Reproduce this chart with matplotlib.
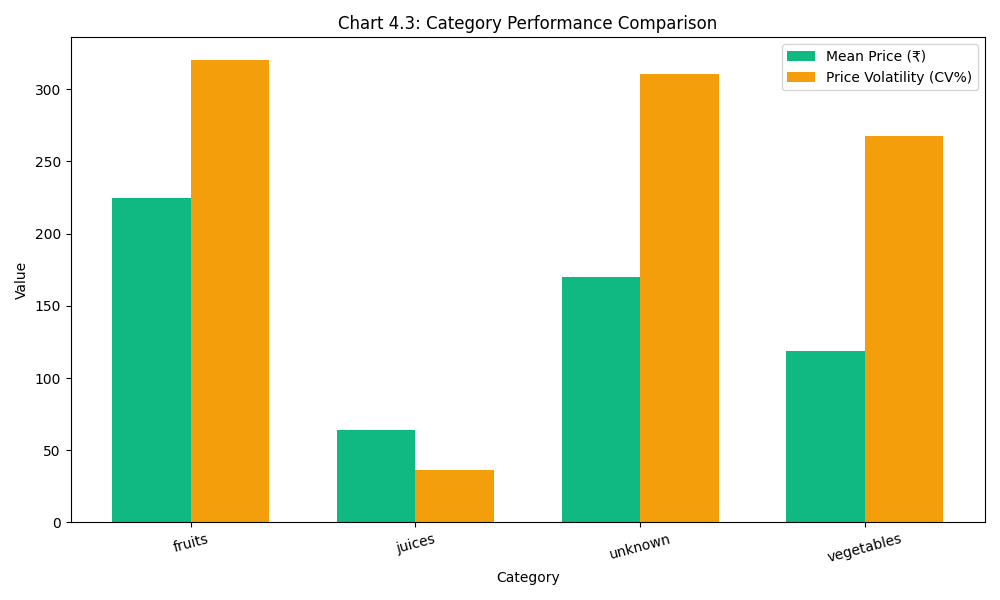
import matplotlib
matplotlib.use("Agg")
import matplotlib.pyplot as plt
import numpy as np

categories = ["fruits", "juices", "unknown", "vegetables"]
mean_price = [224.5, 63.7, 169.8, 118.5]
volatility = [320.0, 36.0, 310.4, 267.5]

fig, ax = plt.subplots(figsize=(10, 6), dpi=100)
x = np.arange(len(categories))
w = 0.35
ax.bar(x - w/2, mean_price, w, color="#10b981", label="Mean Price (₹)")
ax.bar(x + w/2, volatility, w, color="#f59e0b", label="Price Volatility (CV%)")
ax.set_xticks(x)
ax.set_xticklabels(categories, rotation=15)
ax.set_xlabel("Category")
ax.set_ylabel("Value")
ax.set_title("Chart 4.3: Category Performance Comparison")
ax.legend(loc="upper right")
fig.tight_layout()
fig.savefig("out.png")
